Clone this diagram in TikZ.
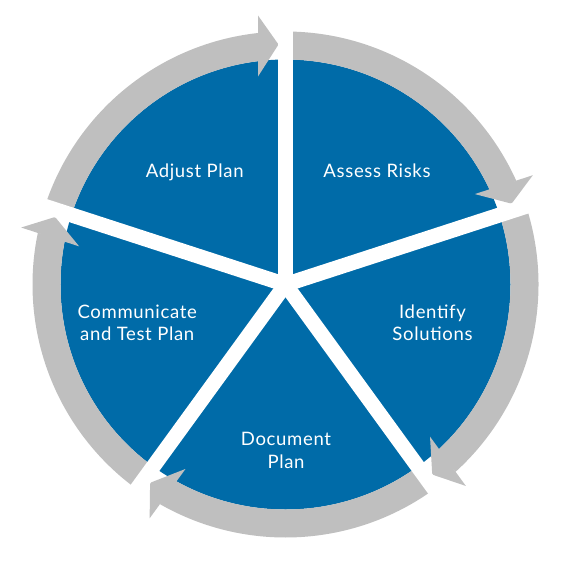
\documentclass[tikz,border=0pt]{standalone}
\usepackage{fontspec}
\setmainfont{Lato}[LetterSpace=3.5]
\usepackage{xcolor}
\definecolor{PlanBlue}{RGB}{0,107,168}
\definecolor{RingGray}{RGB}{191,191,191}

\begin{document}
\begin{tikzpicture}[x=0.75pt,y=0.75pt]
		\useasboundingbox (-285.5,-283.5) rectangle (287.5,284.5);
		\tikzset{label text/.style={text=white, inner sep=0pt, align=center, anchor=base, font=\fontsize{13.9}{17}\selectfont}}

		% The hub of the cycle
		\coordinate (hub) at (0,0);

		% Draw the blue disc
		\fill[PlanBlue] (hub) circle (225);

		% Draw the gray ring pieces, one per step (clockwise)
		\draw[RingGray, line width=21pt] (162:239) arc[start angle=162, end angle=96.2, radius=239];
		\draw[RingGray, line width=21pt] (90:239) arc[start angle=90, end angle=24.2, radius=239];
		\draw[RingGray, line width=21pt] (18:239) arc[start angle=18, end angle=-47.8, radius=239];
		\draw[RingGray, line width=21pt] (-54:239) arc[start angle=-54, end angle=-119.8, radius=239];
		\draw[RingGray, line width=21pt] (-126:239) arc[start angle=-126, end angle=-191.8, radius=239];

		% Draw the arrow heads at the end of each ring piece
		\fill[RingGray, rotate=90] (208,27.5) -- (269,27.5) -- (240,7) -- cycle;
		\fill[RingGray, rotate=18] (208,27.5) -- (269,27.5) -- (240,7) -- cycle;
		\fill[RingGray, rotate=-54] (208,27.5) -- (269,27.5) -- (240,7) -- cycle;
		\fill[RingGray, rotate=-126] (208,27.5) -- (269,27.5) -- (240,7) -- cycle;
		\fill[RingGray, rotate=162] (208,27.5) -- (269,27.5) -- (240,7) -- cycle;

		% Draw the white gaps between the steps
		\draw[white, line width=11.25pt] (hub) -- (90:262);
		\draw[white, line width=11.25pt] (hub) -- (18:262);
		\draw[white, line width=11.25pt] (hub) -- (-54:262);
		\draw[white, line width=11.25pt] (hub) -- (-126:262);
		\draw[white, line width=11.25pt] (hub) -- (162:262);

		% The step labels (two-line labels sit on their last line)
		\node[label text] (adjust) at (-90.8,107.2) {Adjust Plan};
		\node[label text] (assess) at (91.5,107.2) {Assess Risks};
		\node[label text] (identify) at (147,-56.2) {Identify\\Solutions};
		\node[label text] (document) at (0.5,-183.8) {Document\\Plan};
		\node[label text] (communicate) at (-148.3,-56.2) {Communicate\\and Test Plan};
	\end{tikzpicture}
\end{document}
